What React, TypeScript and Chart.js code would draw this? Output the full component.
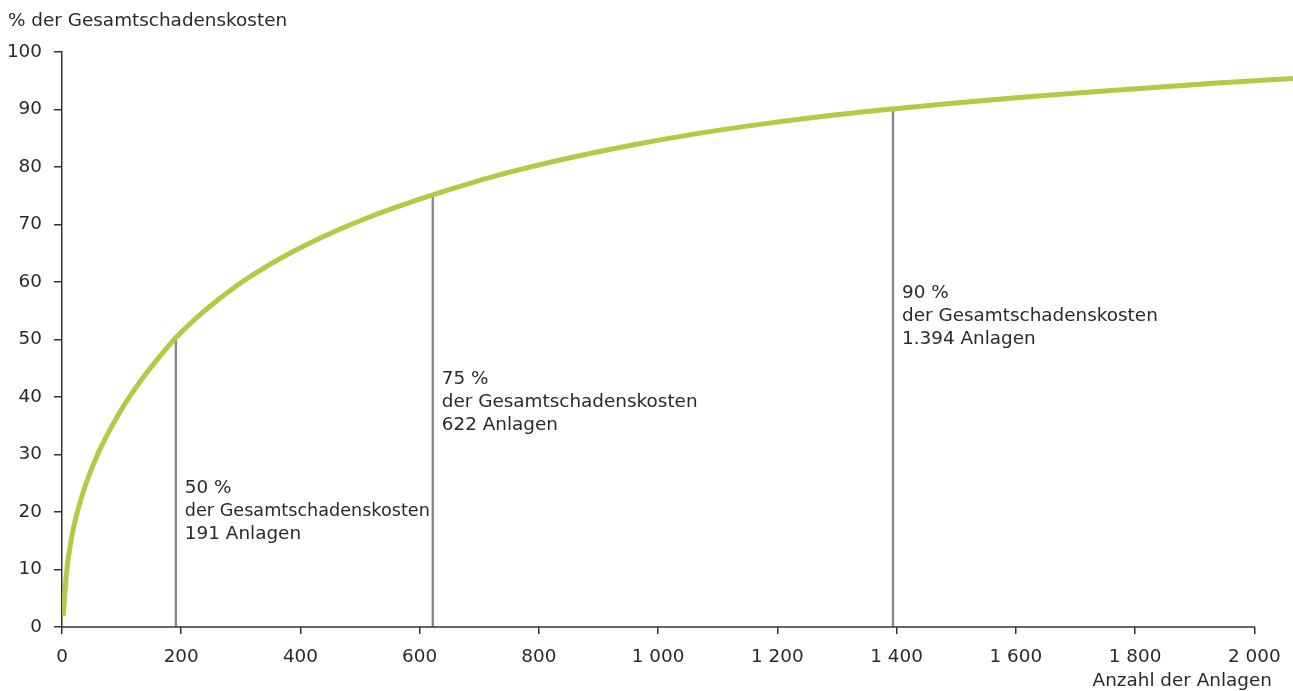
import React, { useEffect, useRef } from "react";
import { Chart, registerables } from "chart.js";

Chart.register(...registerables);

// Cumulative share of total damage costs vs. number of installations
const curveX = [2, 8, 16, 27, 44, 61, 83, 106, 134, 162, 191, 237, 293, 349, 405, 461, 517, 573, 622, 729, 841, 953, 1065, 1177, 1289, 1394, 1484, 1596, 1708, 1820, 1932, 2065];
const curveY = [1.9, 9.8, 15.5, 20.5, 26.0, 30.3, 34.8, 38.9, 43.1, 46.8, 50.3, 54.8, 59.35, 63.05, 66.2, 68.95, 71.35, 73.45, 75.15, 78.5, 81.35, 83.75, 85.8, 87.5, 88.95, 90.1, 91.0, 91.98, 92.9, 93.75, 94.55, 95.4];

// Marker lines (threshold shares)
const markerX = [191, 622, 1394];
const markerY = [50, 75, 90];
const markerLabels = [
  ["50 %", "der Gesamtschadenskosten", "191 Anlagen"],
  ["75 %", "der Gesamtschadenskosten", "622 Anlagen"],
  ["90 %", "der Gesamtschadenskosten", "1.394 Anlagen"],
];
// vertical anchor (in y units) of the first label line
const markerLabelY = [24.2, 43.1, 58.1];

const xTicks = [0, 200, 400, 600, 800, 1000, 1200, 1400, 1600, 1800, 2000];
const yTicks = [0, 10, 20, 30, 40, 50, 60, 70, 80, 90, 100];
const yAxisTitle = "% der Gesamtschadenskosten";
const xAxisTitle = "Anzahl der Anlagen";

const FONT = '"DejaVu Sans", Verdana, sans-serif';
const FS = 18.4;
const TEXT = "#2a2a2a";
const AXIS = "#333333";

function fmt(v: number): string {
  if (v >= 1000) {
    const th = Math.floor(v / 1000);
    const rest = String(v % 1000).padStart(3, "0");
    return `${th} ${rest}`;
  }
  return String(v);
}

export default function App() {
  const ref = useRef<HTMLCanvasElement | null>(null);

  useEffect(() => {
    document.body.style.margin = "0";
    const canvas = ref.current;
    if (!canvas) return;

    const overlay = {
      id: "overlay",
      afterDatasetsDraw(chart: any) {
        const ctx = chart.ctx;
        const xs = chart.scales.x;
        const ys = chart.scales.y;
        ctx.save();
        // x axis line only up to last tick
        ctx.strokeStyle = AXIS;
        ctx.lineWidth = 1.5;
        ctx.beginPath();
        const y0 = ys.getPixelForValue(0);
        ctx.moveTo(xs.getPixelForValue(0) - 1, y0);
        ctx.lineTo(xs.getPixelForValue(xTicks[xTicks.length - 1]) + 0.75, y0);
        ctx.stroke();

        ctx.fillStyle = TEXT;
        ctx.font = `${FS}px ${FONT}`;
        ctx.textBaseline = "middle";
        ctx.textAlign = "left";
        markerLabels.forEach((lines, i) => {
          const px = xs.getPixelForValue(markerX[i]) + 9;
          const py = ys.getPixelForValue(markerLabelY[i]);
          const limit =
            i + 1 < markerX.length ? xs.getPixelForValue(markerX[i + 1]) - px - 3 : chart.width - px;
          lines.forEach((l, j) => ctx.fillText(l, px, py + j * 23, limit));
        });

        ctx.fillText(yAxisTitle, 8, 21.5);
        ctx.textAlign = "right";
        ctx.fillText(xAxisTitle, 1272, 681.5);
        ctx.restore();
      },
    };

    const markerSets = markerX.map((mx, i) => ({
      type: "line" as const,
      data: [
        { x: mx, y: 0 },
        { x: mx, y: markerY[i] },
      ],
      borderColor: "#8a8a8d",
      borderWidth: 2.4,
      pointRadius: 0,
      tension: 0,
      order: 2,
    }));

    const chart = new Chart(canvas, {
      type: "line",
      data: {
        datasets: [
          {
            data: curveX.map((x, i) => ({ x, y: curveY[i] })),
            borderColor: "#b4c944",
            borderWidth: 5,
            pointRadius: 0,
            cubicInterpolationMode: "monotone",
            order: 1,
          },
          ...markerSets,
        ] as any,
      },
      options: {
        animation: false,
        responsive: true,
        maintainAspectRatio: false,
        layout: { padding: { top: 52, left: 0, right: 0, bottom: 0 } },
        plugins: {
          legend: { display: false },
          tooltip: { enabled: false },
        },
        scales: {
          x: {
            type: "linear",
            min: 0,
            max: 2065,
            afterBuildTicks: (scale: any) => {
              scale.ticks = xTicks.map((v) => ({ value: v }));
            },
            afterFit: (scale: any) => {
              scale.height = 64;
            },
            ticks: {
              autoSkip: false,
              maxRotation: 0,
              padding: 12,
              color: TEXT,
              font: { family: FONT, size: FS },
              callback: (v: any) => fmt(Number(v)),
            },
            grid: {
              display: true,
              drawOnChartArea: false,
              drawTicks: true,
              tickLength: 7,
              color: AXIS,
              lineWidth: 1.5,
            },
            border: { display: false },
          },
          y: {
            type: "linear",
            min: 0,
            max: 100,
            afterBuildTicks: (scale: any) => {
              scale.ticks = yTicks.map((v) => ({ value: v }));
            },
            afterFit: (scale: any) => {
              scale.width = 62;
            },
            ticks: {
              padding: 12,
              color: TEXT,
              font: { family: FONT, size: FS },
            },
            grid: {
              display: true,
              drawOnChartArea: false,
              drawTicks: true,
              tickLength: 8,
              color: AXIS,
              lineWidth: 1.5,
            },
            border: { display: true, color: AXIS, width: 1.5 },
          },
        },
      },
      plugins: [overlay],
    });

    return () => chart.destroy();
  }, []);

  return (
    <div style={{ width: 1293, height: 691, position: "relative" }}>
      <canvas ref={ref} />
    </div>
  );
}
